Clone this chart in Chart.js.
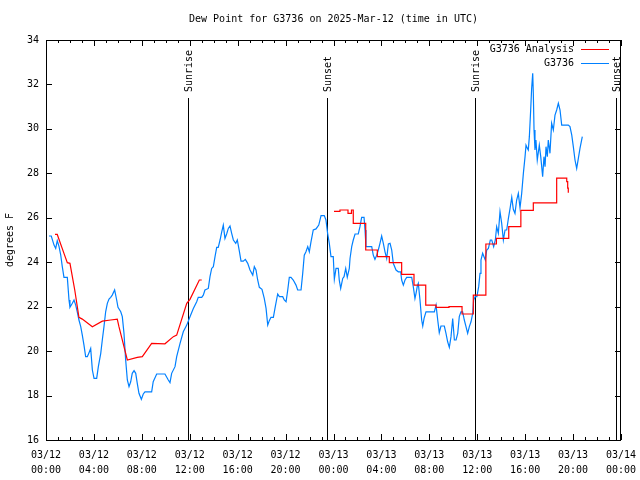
<!DOCTYPE html>
<html>
<head>
<meta charset="utf-8">
<title>Dew Point for G3736</title>
<script src="https://cdn.jsdelivr.net/npm/chart.js@4.4.1/dist/chart.umd.min.js"></script>
<style>
  html, body { margin: 0; padding: 0; background: #fff; }
</style>
</head>
<body>
<canvas id="canvas" width="640" height="480"></canvas>
<script>
// all times are hours since 03/12 00:00 UTC

var chartTitle = 'Dew Point for G3736 on 2025-Mar-12 (time in UTC)';
var yTitle = 'degrees F';

// station observations (G3736)
var obsHours = [
  0.25,0.44,0.67,0.81,0.94,1.09,1.23,1.36,1.50,1.78,
  1.92,2.00,2.20,2.34,2.48,2.61,2.75,2.90,3.03,3.17,
  3.31,3.45,3.59,3.73,3.87,4.01,4.23,4.37,4.57,4.70,
  4.84,4.98,5.12,5.26,5.40,5.53,5.73,5.90,6.01,6.24,
  6.37,6.51,6.65,6.79,6.93,7.07,7.20,7.35,7.49,7.62,
  7.76,7.96,8.12,8.26,8.82,8.95,9.24,9.93,10.21,10.35,
  10.49,10.77,10.91,11.19,11.46,11.75,12.02,12.30,12.58,12.71,
  13.00,13.13,13.27,13.55,13.69,13.83,13.97,14.11,14.25,14.38,
  14.53,14.67,14.80,14.94,15.08,15.22,15.36,15.50,15.64,15.84,
  15.97,16.14,16.28,16.47,16.64,16.84,17.03,17.26,17.39,17.53,
  17.67,17.81,18.03,18.22,18.37,18.51,18.64,18.78,18.98,19.14,
  19.34,19.48,19.76,19.89,20.04,20.18,20.31,20.45,20.64,20.87,
  21.01,21.29,21.43,21.56,21.70,21.85,21.98,22.12,22.31,22.54,
  22.77,22.96,23.23,23.37,23.51,23.65,23.79,23.98,24.07,24.21,
  24.40,24.48,24.60,24.77,24.88,25.02,25.15,25.32,25.38,25.52,
  25.65,25.80,26.07,26.21,26.35,26.55,26.63,26.71,27.19,27.32,
  27.46,27.61,27.74,27.88,28.02,28.16,28.30,28.44,28.58,28.72,
  28.86,28.99,29.22,29.41,29.61,29.69,29.83,29.97,30.11,30.53,
  30.66,30.80,30.89,31.00,31.08,31.22,31.36,31.45,31.56,31.72,
  32.42,32.56,32.70,32.83,32.97,33.25,33.39,33.53,33.67,33.81,
  33.95,34.09,34.23,34.37,34.50,34.64,34.78,34.92,35.06,35.20,
  35.34,35.48,35.62,35.70,35.83,35.97,36.12,36.23,36.31,36.45,
  36.58,36.67,36.79,36.93,37.09,37.21,37.37,37.51,37.62,37.76,
  37.90,38.04,38.18,38.32,38.46,38.60,38.74,38.88,39.01,39.15,
  39.29,39.43,39.57,39.71,39.85,39.99,40.07,40.18,40.26,40.35,
  40.46,40.54,40.63,40.68,40.74,40.82,40.90,41.01,41.10,41.18,
  41.30,41.38,41.46,41.57,41.66,41.74,41.85,41.93,42.07,42.21,
  42.35,42.49,42.63,42.77,42.91,43.05,43.60,43.74,43.89,44.02,
  44.16,44.30,44.44,44.58,44.77
];
var obsValues = [
  25.18,25.18,24.77,24.62,24.97,24.7,24.32,23.8,23.32,23.32,
  22.3,21.97,22.15,22.3,22.07,21.77,21.4,21.1,20.72,20.27,
  19.75,19.75,19.93,20.12,19.15,18.77,18.77,19.3,19.9,20.5,
  21.1,21.77,22.15,22.34,22.42,22.52,22.75,22.3,21.97,21.77,
  21.55,20.8,19.6,18.7,18.4,18.62,19.0,19.12,19.0,18.55,
  18.1,17.83,18.07,18.17,18.17,18.62,18.97,18.97,18.7,18.58,
  19.0,19.3,19.75,20.35,20.87,21.17,21.55,21.92,22.22,22.42,
  22.42,22.52,22.75,22.82,23.35,23.72,23.8,24.25,24.67,24.67,
  25.0,25.37,25.67,25.07,25.27,25.52,25.63,25.3,25.0,24.85,
  25.0,24.5,24.05,24.05,24.13,23.95,23.65,23.42,23.8,23.65,
  23.2,22.87,22.78,22.37,21.92,21.17,21.37,21.52,21.52,22.0,
  22.57,22.45,22.45,22.3,22.22,22.75,23.32,23.32,23.2,22.97,
  22.75,22.75,23.5,24.32,24.47,24.7,24.47,24.92,25.45,25.5,
  25.67,26.1,26.1,25.9,25.3,24.85,24.25,24.25,23.23,23.72,
  23.72,23.2,22.82,23.27,23.35,23.72,23.32,23.72,24.17,24.7,
  25.0,25.27,25.27,25.6,26.02,26.02,25.45,24.7,24.7,24.32,
  24.13,24.32,24.55,24.85,25.18,24.85,24.47,24.17,24.82,24.85,
  24.55,23.95,23.65,23.57,23.57,23.2,22.97,23.2,23.32,23.32,
  22.9,22.37,22.6,22.93,23.05,22.3,21.4,21.13,21.47,21.77,
  21.77,22.07,21.4,20.83,21.13,21.13,20.8,20.42,20.17,20.65,
  21.47,20.5,20.5,20.8,21.55,21.77,21.77,21.4,21.1,20.8,
  21.1,21.32,21.7,22.3,22.45,22.45,22.9,23.5,24.1,24.4,
  24.22,24.1,24.55,24.62,25.0,25.0,24.7,25.0,25.6,25.3,
  26.27,25.75,25.0,25.45,25.45,25.97,26.42,26.92,26.38,26.2,
  26.8,27.1,26.45,27.1,28.0,28.75,29.27,29.13,29.05,29.65,
  30.85,31.82,32.5,31.6,29.95,29.05,29.5,28.6,28.95,29.27,
  28.75,28.3,27.85,28.75,28.3,29.2,28.75,29.5,28.9,30.25,
  29.95,30.62,30.85,31.15,30.85,30.17,30.17,30.1,29.72,29.2,
  28.6,28.22,28.67,29.13,29.65
];

// analysis, first day (joined points)
var anaHours1 = [0.75,0.94,1.50,1.78,2.00,2.40,2.75,3.03,3.87,4.70,5.40,5.95,
                 6.09,6.79,7.62,8.04,8.82,9.93,10.63,10.91,11.75,12.02,12.80,13.00];
var anaValues1 = [25.25,25.25,24.4,23.98,23.95,22.75,21.52,21.44,21.1,21.35,21.4,21.44,
                  21.1,19.6,19.72,19.75,20.35,20.33,20.65,20.72,22.15,22.33,23.2,23.2];

// analysis, second day (each value held until the next one)
var anaHours2 = [24.04,24.54,25.21,25.50,25.65,26.69,27.66,28.66,29.69,30.72,31.70,32.56,
                 33.64,34.73,35.67,36.72,37.60,38.63,39.64,40.68,42.63,43.47,43.55,43.60];
var anaValues2 = [26.29,26.35,26.2,26.35,25.75,24.55,24.25,23.98,23.45,22.97,22.07,21.97,
                  22.0,21.67,22.52,24.82,25.07,25.6,26.33,26.67,27.78,27.63,27.33,27.13];

var sunHours = [11.88, 23.48, 35.84, 47.56];
var sunLabels = ['Sunrise', 'Sunset', 'Sunrise', 'Sunset'];

var tickDates = ['03/12','03/12','03/12','03/12','03/12','03/12','03/13','03/13','03/13','03/13','03/13','03/13','03/14'];
var tickTimes = ['00:00','04:00','08:00','12:00','16:00','20:00','00:00','04:00','08:00','12:00','16:00','20:00','00:00'];

var FONT_FAMILY = '"DejaVu Sans Mono", "Liberation Mono", monospace';
var FONT = '10px ' + FONT_FAMILY;

function pairs(xs, ys) {
  return xs.map(function(x, i) { return {x: x, y: ys[i]}; });
}

// frame, inward ticks, sun lines, title and legend drawn like gnuplot does
var gnuplotLook = {
  id: 'gnuplotLook',
  beforeDatasetsDraw: function(chart) {
    var ctx = chart.ctx, xs = chart.scales.x, a = chart.chartArea;
    ctx.save();
    ctx.strokeStyle = '#000';
    ctx.fillStyle = '#000';
    ctx.lineWidth = 1;
    ctx.font = FONT;
    sunHours.forEach(function(h, i) {
      var px = Math.round(xs.getPixelForValue(h)) + 0.5;
      ctx.beginPath();
      ctx.moveTo(px, a.top + 58);
      ctx.lineTo(px, a.bottom);
      ctx.stroke();
      ctx.save();
      ctx.translate(px + 1, a.top + 52);
      ctx.rotate(-Math.PI / 2);
      ctx.textAlign = 'left';
      ctx.textBaseline = 'middle';
      ctx.fillText(sunLabels[i], 0, 0);
      ctx.restore();
    });
    ctx.restore();
  },
  afterDatasetsDraw: function(chart) {
    var ctx = chart.ctx, xs = chart.scales.x, ys = chart.scales.y, a = chart.chartArea;
    ctx.save();
    ctx.strokeStyle = '#000';
    ctx.lineWidth = 1;
    ctx.beginPath();
    for (var h = xs.min; h <= xs.max; h++) {
      var px = Math.round(xs.getPixelForValue(h)) + 0.5;
      var len = (h % 4 === 0) ? 6 : 3;
      ctx.moveTo(px, a.bottom); ctx.lineTo(px, a.bottom - len);
      ctx.moveTo(px, a.top); ctx.lineTo(px, a.top + len);
    }
    for (var v = ys.min; v <= ys.max; v += 2) {
      var py = Math.round(ys.getPixelForValue(v)) + 0.5;
      ctx.moveTo(a.left, py); ctx.lineTo(a.left + 6, py);
      ctx.moveTo(a.right, py); ctx.lineTo(a.right - 6, py);
    }
    ctx.stroke();
    ctx.strokeRect(Math.round(a.left) + 0.5, Math.round(a.top) + 0.5,
                   Math.round(a.right - a.left) - 1, Math.round(a.bottom - a.top));

    ctx.font = FONT;
    ctx.fillStyle = '#000';
    ctx.textBaseline = 'middle';
    ctx.textAlign = 'center';
    ctx.fillText(chartTitle, (a.left + a.right) / 2, 19);

    [0, 2].forEach(function(idx, i) {
      var ds = chart.data.datasets[idx];
      var yy = Math.round(a.top + 9 + i * 13.5) + 0.5;
      ctx.textAlign = 'right';
      ctx.fillStyle = '#000';
      ctx.fillText(ds.label, a.right - 47, yy);
      ctx.strokeStyle = ds.borderColor;
      ctx.beginPath();
      ctx.moveTo(a.right - 40, yy);
      ctx.lineTo(a.right - 12, yy);
      ctx.stroke();
    });
    ctx.restore();
  }
};

Chart.defaults.font.family = FONT_FAMILY;
Chart.defaults.font.size = 10;
Chart.defaults.color = '#000';

const ctx = document.getElementById('canvas').getContext('2d');
const myChart = new Chart(ctx, {
  type: 'line',
  data: {
    datasets: [{
      label: 'G3736 Analysis',
      data: pairs(anaHours1, anaValues1),
      borderColor: 'rgb(255,0,0)',
      borderWidth: 1.2,
      pointRadius: 0,
      tension: 0
    }, {
      label: 'G3736 Analysis',
      data: pairs(anaHours2, anaValues2),
      borderColor: 'rgb(255,0,0)',
      borderWidth: 1.2,
      pointRadius: 0,
      stepped: 'before'
    }, {
      label: 'G3736',
      data: pairs(obsHours, obsValues),
      borderColor: 'rgb(0,128,255)',
      borderWidth: 1.2,
      pointRadius: 0,
      tension: 0
    }]
  },
  options: {
    responsive: false,
    animation: false,
    layout: { padding: { top: 40, right: 19, left: 0, bottom: 0 } },
    plugins: {
      legend: { display: false },
      tooltip: { enabled: false },
      title: { display: false }
    },
    scales: {
      x: {
        type: 'linear',
        min: 0,
        max: 48,
        grid: { display: false, drawTicks: false },
        border: { display: false },
        ticks: {
          stepSize: 4,
          autoSkip: false,
          maxRotation: 0,
          minRotation: 0,
          padding: 8,
          font: { size: 10, lineHeight: 1.5 },
          callback: function(v) {
            if (v % 4 !== 0) return '';
            return [tickDates[v / 4], tickTimes[v / 4]];
          }
        },
        afterFit: function(s) {
          s.height = 40;
          // edge labels fit in the margins, keep the plot full width
          s.paddingLeft = 16;
          s.paddingRight = 16;
        }
      },
      y: {
        min: 16,
        max: 34,
        grid: { display: false, drawTicks: false },
        border: { display: false },
        ticks: { stepSize: 2, padding: 7, font: { size: 10 } },
        title: {
          display: true,
          text: yTitle,
          font: { size: 10 },
          padding: { top: 4, bottom: 0 }
        },
        afterFit: function(s) { s.width = 46; }
      }
    }
  },
  plugins: [gnuplotLook]
});
</script>
</body>
</html>
